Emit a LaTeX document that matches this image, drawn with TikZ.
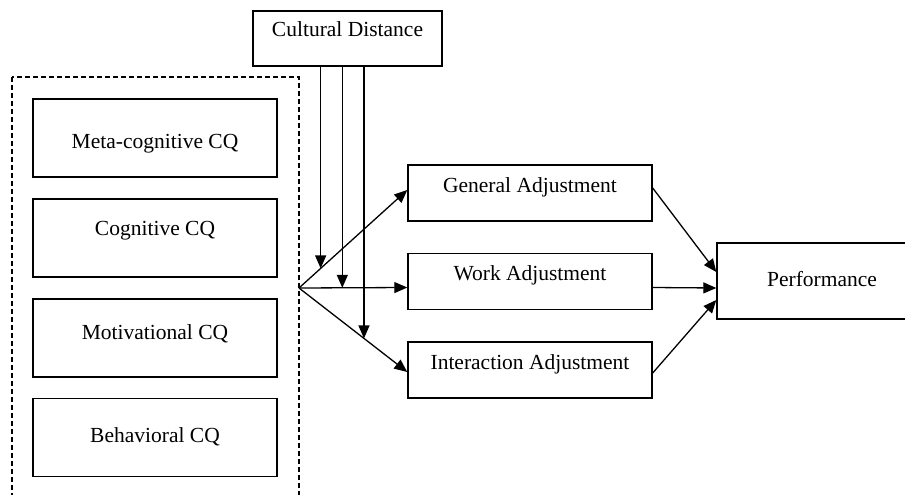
\documentclass[tikz,border=0pt]{standalone}
\usepackage{fontspec}
\setmainfont{Liberation Serif}
\usetikzlibrary{arrows.meta,calc}

\begin{document}
\begin{tikzpicture}[x=1pt, y=-1pt,
		box/.style={draw, line width=1.4pt, inner sep=0pt, font=\fontsize{21.5}{26}\selectfont, text height=15pt, text depth=5pt},
		cqbox/.style={box, minimum width=244pt, minimum height=78pt},
		adjbox/.style={box, minimum width=244pt, minimum height=56pt, text depth=17pt},
		arr/.style={-{Triangle[length=13pt,width=11pt]}, line width=1.3pt}]
		\useasboundingbox (0,0) rectangle (905,495);
		\clip (0,0) rectangle (905,495);
		\draw[overlay, line width=1.2pt, dash pattern=on 5pt off 3pt] (12,77) rectangle (299,515);
		\node[cqbox, text height=25pt] (meta) at (155,138) {Meta-cognitive CQ};
		\node[cqbox, text depth=21pt] (cog) at (155,238) {Cognitive CQ};
		\node[cqbox, text depth=12pt] (motiv) at (155,338) {Motivational CQ};
		\node[cqbox] (behav) at (155,437.5) {Behavioral CQ};
		\node[box, minimum width=189pt, minimum height=55pt, text depth=19pt] (cd) at (347.5,38.5) {Cultural Distance};
		\node[adjbox] (gen) at (530,193) {General Adjustment};
		\node[adjbox] (work) at (530,281.5) {Work Adjustment};
		\node[adjbox] (inter) at (530,370) {Interaction Adjustment};
		\node[box, overlay, minimum width=210pt, minimum height=76pt] (perf) at (822,281) {Performance};
		\coordinate (fan) at (299,288);
		\coordinate (g-in) at ($(gen.west)+(0,-3)$);
		\coordinate (w-in) at ($(work.west)+(0,6)$);
		\coordinate (i-in) at ($(inter.west)+(0,2)$);
		\draw[arr] (fan) -- (g-in);
		\draw[arr] (fan) -- (w-in);
		\draw[arr] (fan) -- (i-in);
		\coordinate (m1) at ($(fan)!0.2!(g-in)$);
		\coordinate (m2) at ($(fan)!0.4!(w-in)$);
		\coordinate (m3) at ($(fan)!0.6!(i-in)$);
		\draw[arr] (m1 |- cd.south) -- (m1);
		\draw[arr] (m2 |- cd.south) -- (m2);
		\draw[arr] (m3 |- cd.south) -- (m3);
		\draw[arr] ($(gen.east)+(0,-5)$) -- ($(perf.west)+(0,-9)$);
		\draw[arr] ($(work.east)+(0,6)$) -- ($(perf.west)+(0,7)$);
		\draw[arr] ($(inter.east)+(0,3)$) -- ($(perf.west)+(0,19)$);
	\end{tikzpicture}
\end{document}
